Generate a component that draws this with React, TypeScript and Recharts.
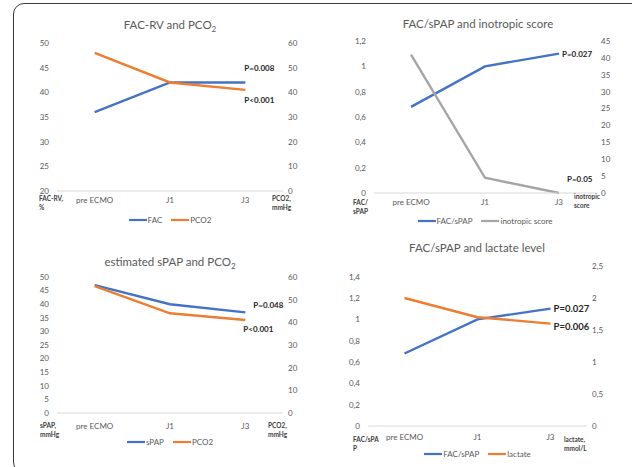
import { LineChart, Line, XAxis, YAxis, Legend } from "recharts";

const stages = ["pre ECMO", "J1", "J3"];

const facRv = [36, 42, 42];
const pco2 = [56, 44, 41];
const facSpap = [0.68, 1.0, 1.1];
const inotropicScore = [41, 4.5, 0];
const spap = [47, 40, 37];
const lactate = [2.0, 1.7, 1.6];

const facRvTicks = [20, 25, 30, 35, 40, 45, 50];
const pco2Ticks = [0, 10, 20, 30, 40, 50, 60];
const ratioTicks = [0, 0.2, 0.4, 0.6, 0.8, 1, 1.2];
const ratioTicksTall = [0, 0.2, 0.4, 0.6, 0.8, 1, 1.2, 1.4];
const inotropicTicks = [0, 5, 10, 15, 20, 25, 30, 35, 40, 45];
const spapTicks = [0, 5, 10, 15, 20, 25, 30, 35, 40, 45, 50];
const lactateTicks = [0, 0.5, 1, 1.5, 2, 2.5];

const pFacRv = "P=0.008";
const pPco2 = "P<0.001";
const pFacSpap = "P=0.027";
const pInotropic = "P=0.05";
const pSpap = "P=0.048";
const pLactate = "P=0.006";

const BLUE = "#4472C4";
const ORANGE = "#ED7D31";
const GRAY = "#A5A5A5";
const TEXT = "#595959";
const FONT = "Lato, 'Open Sans', sans-serif";

const rows = stages.map((stage, i) => ({
  stage,
  facRv: facRv[i],
  pco2: pco2[i],
  facSpap: facSpap[i],
  inotropic: inotropicScore[i],
  spap: spap[i],
  lactate: lactate[i],
}));

const comma = (v: number) => String(v).replace(".", ",");

type Series = {
  key: string;
  name: string;
  color: string;
  axis: "left" | "right";
  note: string;
  dx: number;
  dy: number;
};

type AxisCfg = { domain: [number, number]; ticks: number[]; comma?: boolean };

type PanelProps = {
  x: number;
  y: number;
  title: React.ReactNode;
  titleX: number;
  titleY: number;
  plot: { l: number; r: number; t: number; b: number };
  catGap: number;
  legendY: number;
  left: AxisCfg;
  right: AxisCfg;
  series: Series[];
  noteSize: number;
  leftUnit: [string, string];
  rightUnit: [string, string];
  leftUnitPos: [number, number];
  rightUnitPos: [number, number];
};

const W = 316;
const H = 233;

const noteLabel = (s: Series, size: number) => (props: any) => {
  if (props.index !== stages.length - 1) return <g />;
  const vb = props.viewBox || {};
  const px = vb.x ?? props.x;
  const py = vb.y ?? props.y;
  return (
    <text
      x={px + s.dx}
      y={py + s.dy}
      fontSize={size}
      fontWeight={700}
      fill="#262626"
      fontFamily={FONT}
      dominantBaseline="central"
    >
      {s.note}
    </text>
  );
};

// legend in the same order as the series, line swatch + label like Excel
const renderLegend = (order: string[]) => (props: any) => {
  const items = [...(props.payload || [])].sort(
    (a: any, b: any) => order.indexOf(a.value) - order.indexOf(b.value)
  );
  return (
    <div
      style={{
        display: "flex",
        justifyContent: "center",
        alignItems: "center",
        gap: 9,
        fontSize: 8,
        color: TEXT,
        fontFamily: FONT,
        lineHeight: "10px",
      }}
    >
      {items.map((p: any) => (
        <span key={p.value} style={{ display: "flex", alignItems: "center" }}>
          <svg width={18} height={4} style={{ marginRight: 1 }}>
            <line x1={0} y1={2} x2={18} y2={2} stroke={p.color} strokeWidth={2.2} />
          </svg>
          <span>{p.value}</span>
        </span>
      ))}
    </div>
  );
};

function Unit({ lines, pos }: { lines: [string, string]; pos: [number, number] }) {
  return (
    <div
      style={{
        position: "absolute",
        left: pos[0],
        top: pos[1],
        fontSize: 6.5,
        fontWeight: 700,
        color: "#404040",
        lineHeight: "8.5px",
        whiteSpace: "nowrap",
      }}
    >
      <div>{lines[0]}</div>
      <div>{lines[1]}</div>
    </div>
  );
}

function Panel(p: PanelProps) {
  const leftW = 30;
  const rightW = 25;
  const xH = 20;
  const pad = (p.plot.r - p.plot.l) / 6;
  const margin = {
    left: p.plot.l - leftW,
    right: W - p.plot.r - rightW,
    top: p.plot.t,
    bottom: H - p.plot.b - xH,
  };
  return (
    <div style={{ position: "absolute", left: p.x, top: p.y, width: W, height: H }}>
      <div
        style={{
          position: "absolute",
          left: p.titleX - 120,
          width: 240,
          top: p.titleY - 8,
          height: 16,
          lineHeight: "16px",
          textAlign: "center",
          fontSize: 11.5,
          color: TEXT,
        }}
      >
        {p.title}
      </div>
      <LineChart width={W} height={H} data={rows} margin={margin}>
        <XAxis
          dataKey="stage"
          interval={0}
          height={xH}
          padding={{ left: pad, right: pad }}
          axisLine={{ stroke: "#d9d9d9" }}
          tickLine={false}
          tickSize={p.catGap}
          tickMargin={2}
          tick={{ fontSize: 8, fill: TEXT, fontFamily: FONT }}
        />
        <YAxis
          yAxisId="left"
          orientation="left"
          width={leftW}
          domain={p.left.domain}
          ticks={p.left.ticks}
          interval={0}
          axisLine={false}
          tickLine={false}
          tickFormatter={p.left.comma ? comma : undefined}
          tick={{ fontSize: 8, fill: TEXT, fontFamily: FONT }}
        />
        <YAxis
          yAxisId="right"
          orientation="right"
          width={rightW}
          domain={p.right.domain}
          ticks={p.right.ticks}
          interval={0}
          axisLine={false}
          tickLine={false}
          tickSize={4}
          tickMargin={1}
          tickFormatter={p.right.comma ? comma : undefined}
          tick={{ fontSize: 8, fill: TEXT, fontFamily: FONT }}
        />
        <Legend
          verticalAlign="middle"
          content={renderLegend(p.series.map((s) => s.name))}
          wrapperStyle={{
            top: p.legendY - 5,
            left: p.plot.l,
            width: p.plot.r - p.plot.l,
            height: 10,
          }}
        />
        {p.series.map((s) => (
          <Line
            key={s.key}
            yAxisId={s.axis}
            dataKey={s.key}
            name={s.name}
            type="linear"
            stroke={s.color}
            strokeWidth={2.4}
            dot={false}
            activeDot={false}
            isAnimationActive={false}
            label={noteLabel(s, p.noteSize)}
          />
        ))}
      </LineChart>
      <Unit lines={p.leftUnit} pos={p.leftUnitPos} />
      <Unit lines={p.rightUnit} pos={p.rightUnitPos} />
    </div>
  );
}

export default function App() {
  return (
    <div
      style={{
        position: "absolute",
        left: 0,
        top: 0,
        width: 632,
        height: 467,
        overflow: "hidden",
        background: "#fff",
        fontFamily: FONT,
      }}
    >
      <div
        style={{
          position: "absolute",
          left: 13,
          top: 3,
          width: 630,
          height: 470,
          border: "1.3px solid #3a3a3a",
          borderRadius: 11,
          boxSizing: "border-box",
        }}
      />
      <Panel
        x={0}
        y={0}
        title={<>FAC-RV and PCO<sub style={{ fontSize: 8 }}>2</sub></>}
        titleX={170}
        titleY={25}
        plot={{ l: 57, r: 283, t: 43, b: 191 }}
        catGap={4}
        legendY={220}
        left={{ domain: [20, 50], ticks: facRvTicks }}
        right={{ domain: [0, 60], ticks: pco2Ticks }}
        series={[
          { key: "facRv", name: "FAC", color: BLUE, axis: "left", note: pFacRv, dx: -1, dy: -14 },
          { key: "pco2", name: "PCO2", color: ORANGE, axis: "right", note: pPco2, dx: -1, dy: 10 },
        ]}
        noteSize={8}
        leftUnit={["FAC-RV,", "%"]}
        rightUnit={["PCO2,", "mmHg"]}
        leftUnitPos={[39, 195]}
        rightUnitPos={[272, 195]}
      />
      <Panel
        x={316}
        y={0}
        title="FAC/sPAP and inotropic score"
        titleX={162}
        titleY={24}
        plot={{ l: 58, r: 280, t: 41, b: 193 }}
        catGap={4}
        legendY={221}
        left={{ domain: [0, 1.2], ticks: ratioTicks, comma: true }}
        right={{ domain: [0, 45], ticks: inotropicTicks }}
        series={[
          { key: "facSpap", name: "FAC/sPAP", color: BLUE, axis: "left", note: pFacSpap, dx: 3, dy: 0 },
          { key: "inotropic", name: "inotropic score", color: GRAY, axis: "right", note: pInotropic, dx: 8, dy: -14 },
        ]}
        noteSize={8}
        leftUnit={["FAC/", "sPAP"]}
        rightUnit={["inotropic", "score"]}
        leftUnitPos={[37, 199]}
        rightUnitPos={[258, 193]}
      />
      <Panel
        x={0}
        y={233}
        title={<>estimated sPAP and PCO<sub style={{ fontSize: 8 }}>2</sub></>}
        titleX={170}
        titleY={29}
        plot={{ l: 57, r: 283, t: 44, b: 180 }}
        catGap={8}
        legendY={209}
        left={{ domain: [0, 50], ticks: spapTicks }}
        right={{ domain: [0, 60], ticks: pco2Ticks }}
        series={[
          { key: "spap", name: "sPAP", color: BLUE, axis: "left", note: pSpap, dx: 8, dy: -7 },
          { key: "pco2", name: "PCO2", color: ORANGE, axis: "right", note: pPco2, dx: -2, dy: 9 },
        ]}
        noteSize={8}
        leftUnit={["sPAP,", "mmHg"]}
        rightUnit={["PCO2,", "mmHg"]}
        leftUnitPos={[40, 189]}
        rightUnitPos={[268, 189]}
      />
      <Panel
        x={316}
        y={233}
        title="FAC/sPAP and lactate level"
        titleX={161}
        titleY={15}
        plot={{ l: 52, r: 271, t: 33, b: 193 }}
        catGap={6}
        legendY={221}
        left={{ domain: [0, 1.5], ticks: ratioTicksTall, comma: true }}
        right={{ domain: [0, 2.5], ticks: lactateTicks, comma: true }}
        series={[
          { key: "facSpap", name: "FAC/sPAP", color: BLUE, axis: "left", note: pFacSpap, dx: 3, dy: 0 },
          { key: "lactate", name: "lactate", color: ORANGE, axis: "right", note: pLactate, dx: 3, dy: 3 },
        ]}
        noteSize={9.5}
        leftUnit={["FAC/sPA", "P"]}
        rightUnit={["lactate,", "mmol/L"]}
        leftUnitPos={[37, 203]}
        rightUnitPos={[248, 203]}
      />
    </div>
  );
}
